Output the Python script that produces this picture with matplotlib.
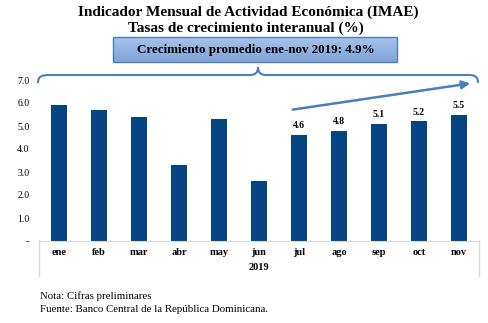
import matplotlib
matplotlib.use("Agg")
import matplotlib.pyplot as plt
import numpy as np
from matplotlib.path import Path
from matplotlib.patches import PathPatch, Rectangle

plt.rcParams["font.family"] = "Liberation Serif"

months = ["ene", "feb", "mar", "abr", "may", "jun", "jul", "ago", "sep", "oct", "nov"]
growth = [5.9, 5.7, 5.4, 3.3, 5.3, 2.6, 4.6, 4.8, 5.1, 5.2, 5.5]
labelled = ["jul", "ago", "sep", "oct", "nov"]
yticks = [0, 1, 2, 3, 4, 5, 6, 7]
ytick_labels = ["-", "1.0", "2.0", "3.0", "4.0", "5.0", "6.0", "7.0"]

W, H = 488, 323
bar_color = "#034482"
line_blue = "#4a7ebb"

fig = plt.figure(figsize=(W / 100, H / 100), dpi=100)

# overlay in pixel coords for decorations
ov = fig.add_axes([0, 0, 1, 1], zorder=0)
ov.set_xlim(0, W)
ov.set_ylim(H, 0)
ov.axis("off")

ax = fig.add_axes([39 / W, (H - 241) / H, 440 / W, 161 / H], zorder=1)
ax.patch.set_alpha(0)
x = np.arange(len(months))
ax.bar(x, growth, width=0.38, color=bar_color)
ax.set_xlim(-0.5, len(months) - 0.5)
ax.set_ylim(0, 7)
ax.set_yticks(yticks)
ax.set_yticklabels(ytick_labels, fontsize=7)
ax.set_xticks(x)
ax.set_xticklabels(months, fontsize=7.5, fontweight="bold")
ax.tick_params(axis="y", length=0, pad=7)
ax.tick_params(axis="x", length=0, pad=5)
for s in ["top", "right", "left"]:
    ax.spines[s].set_visible(False)
ax.spines["bottom"].set_color("#d9d9d9")
ax.set_xlabel("2019", fontsize=7.5, fontweight="bold", labelpad=4)

for xi, v, m in zip(x, growth, months):
    if m in labelled:
        ax.annotate(f"{v:.1f}", (xi, v), xytext=(0, 3.5), textcoords="offset points",
                    ha="center", va="bottom", fontsize=7, fontweight="bold")

# grey box around category axis
ov.plot([39, 39], [240, 276], color="#d9d9d9", lw=1)
ov.plot([479, 479], [240, 276], color="#d9d9d9", lw=1)

# titles
ov.text(248, 12, "Indicador Mensual de Actividad Económica (IMAE)", ha="center", va="center",
        fontsize=11, fontweight="bold")
ov.text(246, 28, "Tasas de crecimiento interanual (%)", ha="center", va="center",
        fontsize=11, fontweight="bold")

# gradient text box
grad = np.linspace(0, 1, 50).reshape(-1, 1)
cmap = matplotlib.colors.LinearSegmentedColormap.from_list("g", ["#a8c3ea", "#7fa3d8"])
im = ov.imshow(grad, extent=[113, 397, 62, 37], cmap=cmap, aspect="auto", zorder=2)
box = Rectangle((113, 37), 284, 25, facecolor="none", edgecolor=line_blue, lw=1, zorder=3)
ov.add_patch(box)
im.set_clip_path(box)
ov.text(256, 49.5, "Crecimiento promedio ene-nov 2019: 4.9%", ha="center", va="center",
        fontsize=9.4, fontweight="bold", zorder=4)

# curly bracket
verts = [(38, 83), (38, 76), (42, 75), (50, 75), (250, 75), (256, 75), (258, 72), (258, 67),
         (258, 72), (260, 75), (266, 75), (468, 75), (474, 75), (478, 76), (478, 83)]
codes = [Path.MOVETO, Path.CURVE4, Path.CURVE4, Path.CURVE4, Path.LINETO,
         Path.CURVE4, Path.CURVE4, Path.CURVE4, Path.CURVE4, Path.CURVE4, Path.CURVE4,
         Path.LINETO, Path.CURVE4, Path.CURVE4, Path.CURVE4]
ov.add_patch(PathPatch(Path(verts, codes), facecolor="none", edgecolor=line_blue, lw=1.5))

# trend arrow
ov.annotate("", xy=(473, 83), xytext=(290, 110),
            arrowprops=dict(arrowstyle="-|>", color=line_blue, lw=1.8, mutation_scale=12))

# notes
ov.text(40, 296, "Nota: Cifras preliminares", ha="left", va="center", fontsize=7.8)
ov.text(40, 309, "Fuente: Banco Central de la República Dominicana.", ha="left", va="center", fontsize=7.8)

fig.savefig("out.png", dpi=100)
